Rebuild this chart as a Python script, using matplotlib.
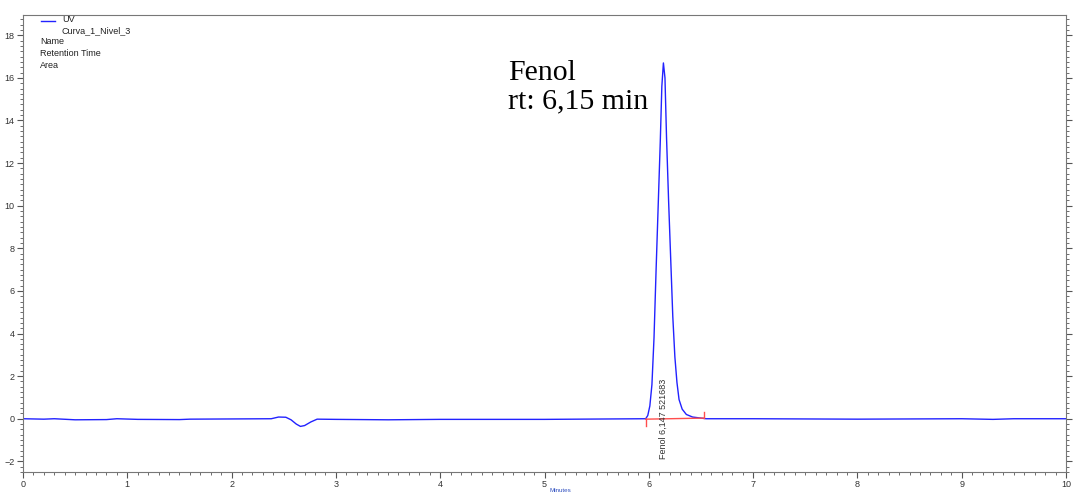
import numpy as np
import matplotlib.pyplot as plt
from matplotlib.ticker import MultipleLocator

# baseline before the peak (min, signal)
base_t = [0, 0.2, 0.3, 0.5, 0.8, 0.9, 1.1, 1.5, 1.6, 2.0, 2.38, 2.45, 2.52, 2.57,
          2.62, 2.66, 2.70, 2.76, 2.82, 3.0, 3.5, 4.0, 5.0, 5.97]
base_y = [0, -0.02, 0.0, -0.05, -0.04, 0.0, -0.03, -0.04, -0.02, -0.01, 0.0, 0.08,
          0.07, -0.05, -0.25, -0.36, -0.32, -0.15, -0.02, -0.03, -0.05, -0.03, -0.03, 0.0]

# phenol peak
peak_t = [5.99, 6.01, 6.03, 6.05, 6.07, 6.09, 6.11, 6.125, 6.14, 6.155, 6.17, 6.19,
          6.21, 6.23, 6.25, 6.27, 6.29, 6.32, 6.36, 6.42, 6.50, 6.55]
peak_y = [0.15, 0.6, 1.6, 3.8, 7.0, 10.0, 13.0, 15.6, 16.7, 16.0, 13.2, 10.2,
          7.5, 4.8, 2.9, 1.7, 0.9, 0.45, 0.2, 0.08, 0.03, 0.0]

# baseline after the peak
tail_t = [7.0, 8.0, 9.0, 9.3, 9.5, 10.0]
tail_y = [0.0, -0.02, 0.0, -0.03, 0.0, 0.0]

t = np.array(base_t + peak_t + tail_t)
uv = np.array(base_y + peak_y + tail_y)

# integration baseline
int_t = [5.97, 6.53]
int_y = [-0.02, 0.03]
peak_label = 'Fenol 6,147 521683'

plt.rcParams['font.family'] = ['Liberation Sans', 'DejaVu Sans']

fig = plt.figure(figsize=(10.73, 4.93), dpi=100)
ax = fig.add_axes([23/1073, 21/493, 1043/1073, 457/493])

ax.plot(t, uv, color='#2222ff', lw=1)
ax.plot(int_t, int_y, color='#ff4d4d', lw=1)
ax.plot([int_t[0], int_t[0]], [int_y[0], -0.35], color='#ff4d4d', lw=1)
ax.plot([int_t[1], int_t[1]], [int_y[1], 0.33], color='#ff4d4d', lw=1)
ax.text(6.14, 0.0, peak_label, rotation=90, ha='center', va='center',
        fontsize=6.5, color='#333333')

ax.set_xlim(0, 10)
ax.set_ylim(-2.5, 18.95)
ax.xaxis.set_major_locator(MultipleLocator(1))
ax.xaxis.set_minor_locator(MultipleLocator(0.1))
ax.yaxis.set_major_locator(MultipleLocator(2))
ax.yaxis.set_minor_locator(MultipleLocator(0.25))
ax.tick_params(which='both', labelsize=6.5, labelcolor='#333333', color='#555555',
               right=True, pad=2)
ax.tick_params(axis='x', pad=1.5)
ax.tick_params(which='major', length=4)
ax.tick_params(which='minor', length=2)
for spine in ax.spines.values():
    spine.set_color('#777777')

# legend block
ax.plot([0.17, 0.31], [18.66, 18.66], color='#2222ff', lw=1)
fig.text(62/1073, 1 - 20/493, 'UV', fontsize=6.5, va='center', color='#222222')
fig.text(62/1073, 1 - 31/493, 'Curva_1_Nivel_3', fontsize=6.5, va='center', color='#222222')
fig.text(40/1073, 1 - 42/493, 'Name', fontsize=6.5, va='center', color='#222222')
fig.text(40/1073, 1 - 53/493, 'Retention Time', fontsize=6.5, va='center', color='#222222')
fig.text(40/1073, 1 - 65/493, 'Area', fontsize=6.5, va='center', color='#222222')

fig.text(508/1073, 1 - 87/493, 'Fenol\nrt: 6,15 min', fontsize=21.5,
         family='Liberation Serif', va='center', ha='left', linespacing=1.15)

fig.text(0.522, 0.5/493, 'Minutes', fontsize=4.5, va='bottom', ha='center', color='#3050c0')

fig.savefig('out.png', dpi=100)
